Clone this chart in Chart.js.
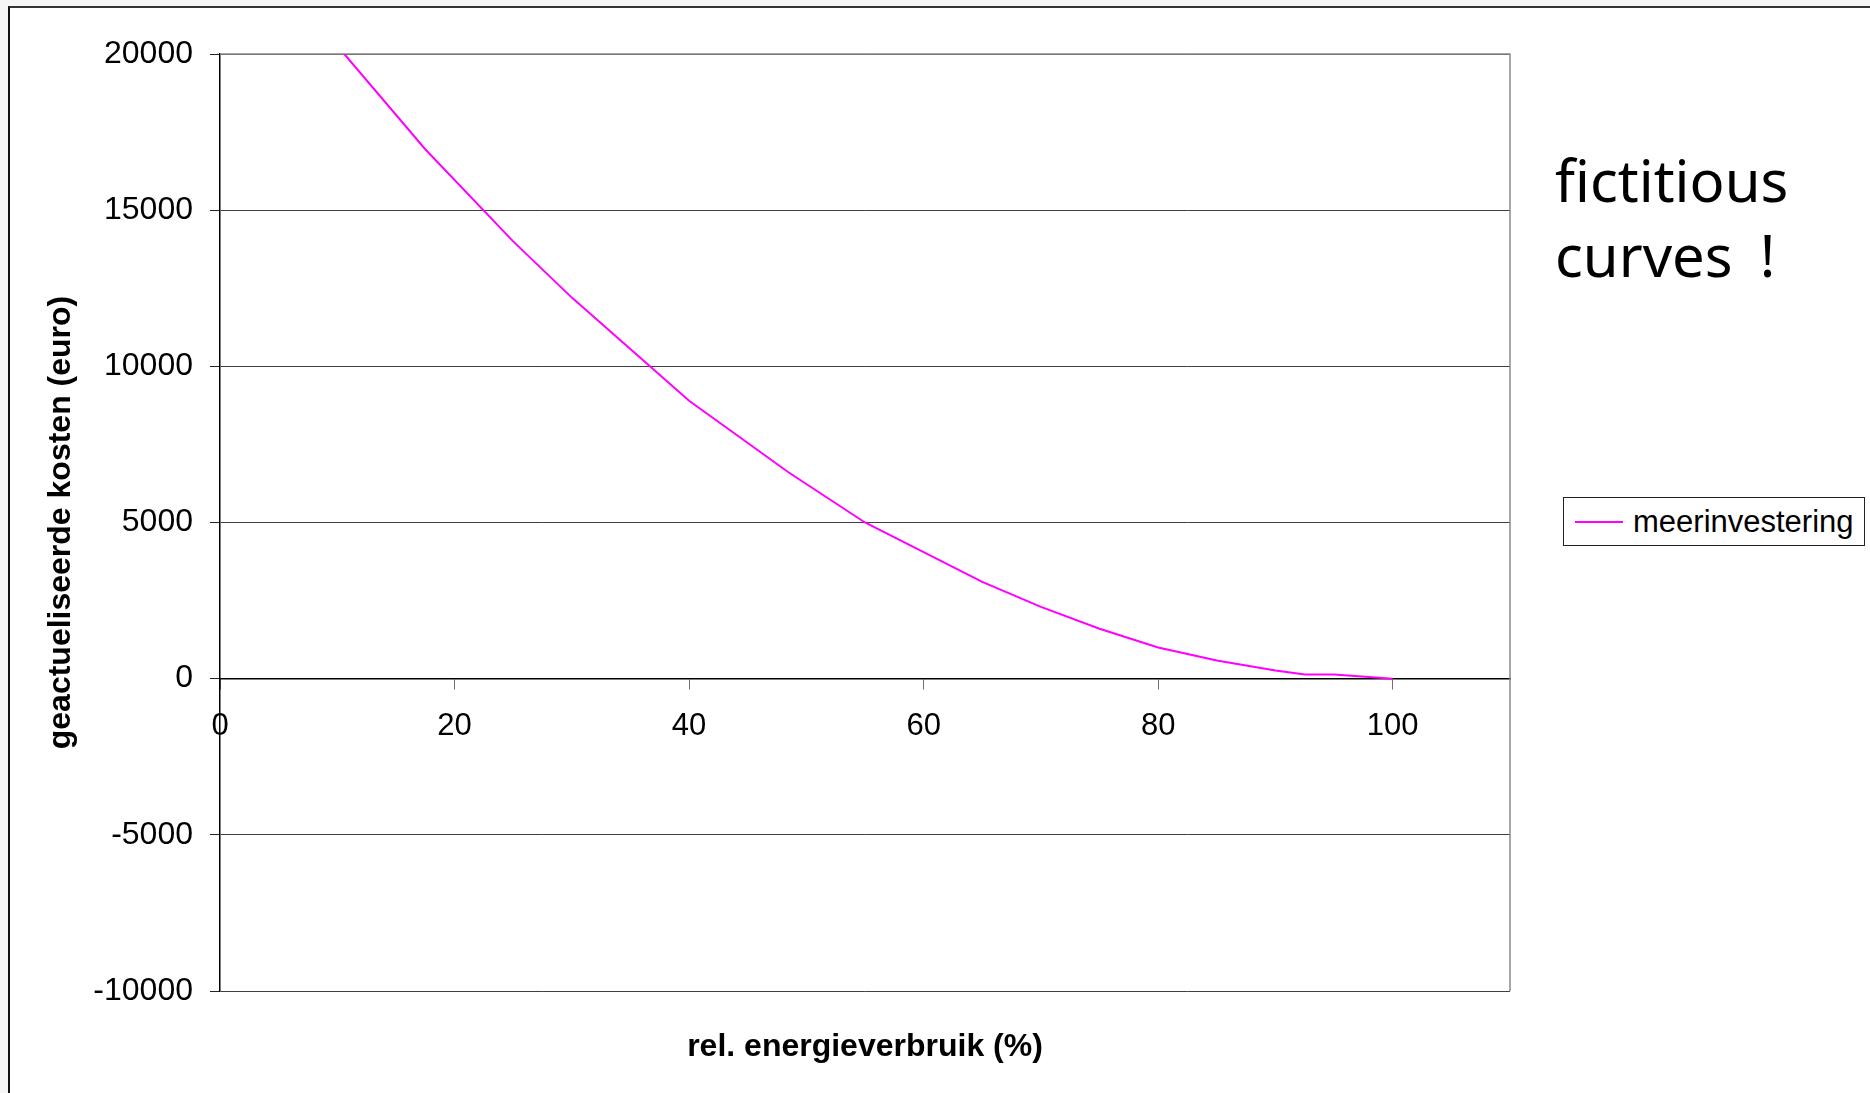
<!DOCTYPE html>
<html lang="nl">
<head>
<meta charset="utf-8">
<title>meerinvestering</title>
<script src="https://cdn.jsdelivr.net/npm/chart.js@4/dist/chart.umd.min.js"></script>
<style>
  html, body {
    margin: 0;
    padding: 0;
    width: 1870px;
    height: 1093px;
    overflow: hidden;
    background: #f6f6f6;
  }
  /* slide frame around the chart */
  #frame {
    position: absolute;
    left: 8px;
    top: 6px;
    width: 1900px;
    height: 1120px;
    background: #fff;
    border-left: 2px solid #111;
    border-top: 2px solid #333;
  }
  #chart {
    position: absolute;
    left: 0;
    top: 0;
  }
  #note {
    position: absolute;
    left: 1555px;
    top: 142px;
    font-family: 'Noto Sans', 'Open Sans', sans-serif;
    font-size: 58px;
    line-height: 75px;
    word-spacing: 12px;
    color: #000;
    white-space: pre;
  }
  #legend {
    position: absolute;
    left: 1563px;
    top: 497px;
    width: 302px;
    height: 49px;
    box-sizing: border-box;
    border: 1.5px solid #222;
    background: #fff;
    display: flex;
    align-items: center;
    font-family: 'Liberation Sans', Arial, sans-serif;
    font-size: 31px;
    color: #000;
  }
  #legend .swatch {
    display: inline-block;
    width: 48px;
    height: 2px;
    margin-left: 11px;
    margin-right: 10px;
  }
</style>
</head>
<body>
<div id="frame"></div>
<canvas id="chart" width="1870" height="1093"></canvas>
<div id="note">fictitious
curves !</div>
<div id="legend"></div>

<script>
// Values
const ENERGY_PCT = [10.6, 17.5, 25, 30, 40, 48.5, 55, 60, 65, 70, 75, 80, 85, 90, 92.5, 95, 100];
const MEERINVESTERING = [20000, 16950, 14000, 12200, 8900, 6600, 5000, 4050, 3100, 2300, 1600, 1000, 580, 260, 130, 130, 0];

const X_TICKS = [0, 20, 40, 60, 80, 100];
const Y_TICKS = [-10000, -5000, 0, 5000, 10000, 15000, 20000];

const SERIES_LABEL = 'meerinvestering';
const X_TITLE = 'rel. energieverbruik (%)';
const Y_TITLE = 'geactueliseerde kosten (euro)';

const ChartModule = (() => {
  let _chart = null;

  const FONT = "'Liberation Sans', Arial, sans-serif";
  const LINE_COLOR = '#ff00ff';

  // grey outline of the plot area (Excel style)
  const plotFrame = {
    id: 'plotFrame',
    beforeDatasetsDraw(chart) {
      const { ctx, chartArea: a } = chart;
      ctx.save();
      ctx.strokeStyle = '#8a8a8a';
      ctx.lineWidth = 1.5;
      ctx.beginPath();
      ctx.moveTo(a.left, a.top);
      ctx.lineTo(a.right, a.top);
      ctx.lineTo(a.right, a.bottom);
      ctx.stroke();
      ctx.restore();
    }
  };

  function init(canvasId) {
    const canvas = document.getElementById(canvasId);
    if (!canvas) return;

    Chart.defaults.font.family = FONT;
    Chart.defaults.color = '#000';

    _chart = new Chart(canvas.getContext('2d'), {
      type: 'line',
      data: {
        datasets: [{
          label: SERIES_LABEL,
          data: ENERGY_PCT.map((x, i) => ({ x, y: MEERINVESTERING[i] })),
          borderColor: LINE_COLOR,
          backgroundColor: LINE_COLOR,
          borderWidth: 2,
          tension: 0,
          pointRadius: 0,
          fill: false,
        }]
      },
      options: {
        responsive: false,
        maintainAspectRatio: false,
        animation: false,
        layout: {
          padding: { top: 54, right: 360, bottom: 0, left: 10 }
        },
        plugins: {
          legend: { display: false },
          tooltip: { enabled: false },
        },
        scales: {
          x: {
            type: 'linear',
            position: { y: 0 },
            min: 0,
            max: 110,
            afterBuildTicks: (scale) => { scale.ticks = X_TICKS.map(v => ({ value: v })); },
            ticks: {
              font: { size: 31 },
              color: '#000',
              padding: 19,
              maxRotation: 0,
              callback: (v) => String(v),
            },
            grid: {
              drawOnChartArea: false,
              tickLength: 10,
              tickColor: '#707070',
            },
            border: { color: '#000', width: 1.5 },
          },
          // bottom axis only used to hold the x title under the plot
          xTitle: {
            type: 'linear',
            position: 'bottom',
            min: 0,
            max: 110,
            ticks: { display: false },
            grid: { display: false, drawTicks: false },
            border: { display: false },
            title: {
              display: true,
              text: X_TITLE,
              font: { size: 32, weight: 'bold' },
              color: '#000',
              padding: { top: 0, bottom: 27 },
            },
            afterFit: (scale) => { scale.height = 102; },
          },
          y: {
            type: 'linear',
            position: 'left',
            min: -10000,
            max: 20000,
            afterBuildTicks: (scale) => { scale.ticks = Y_TICKS.map(v => ({ value: v })); },
            ticks: {
              font: { size: 32 },
              color: '#000',
              padding: 17,
              callback: (v) => String(v),
            },
            grid: {
              color: '#404040',
              lineWidth: 1,
              tickLength: 10,
              tickColor: '#222',
            },
            border: { color: '#000', width: 1.5 },
            title: {
              display: true,
              text: Y_TITLE,
              font: { size: 32, weight: 'bold' },
              color: '#000',
              padding: { top: 32, bottom: 0 },
            },
            afterFit: (scale) => { scale.width = 210; },
          }
        }
      },
      plugins: [plotFrame]
    });

    buildLegend();
  }

  // HTML legend box on the right, filled from the chart's own datasets
  function buildLegend() {
    const box = document.getElementById('legend');
    if (!box || !_chart) return;
    _chart.data.datasets.forEach(ds => {
      const swatch = document.createElement('span');
      swatch.className = 'swatch';
      swatch.style.background = ds.borderColor;
      const text = document.createElement('span');
      text.textContent = ds.label;
      box.appendChild(swatch);
      box.appendChild(text);
    });
  }

  return { init };
})();

ChartModule.init('chart');
</script>
</body>
</html>
